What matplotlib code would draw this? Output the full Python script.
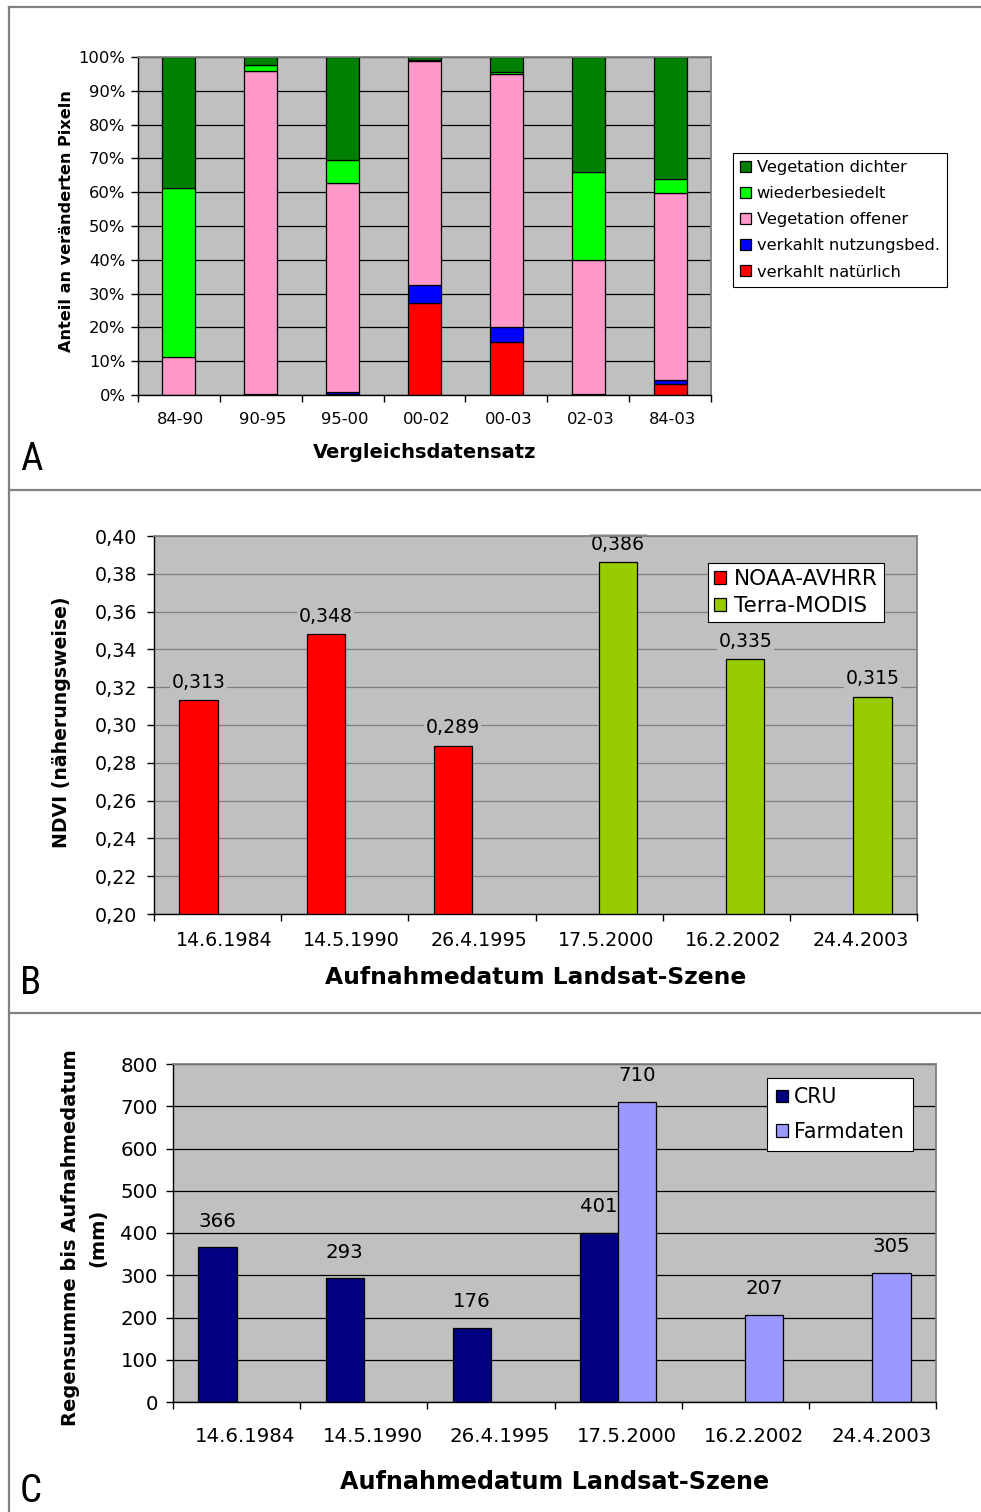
import numpy as np
import matplotlib
matplotlib.use("Agg")
import matplotlib.pyplot as plt
from matplotlib.lines import Line2D
from matplotlib.ticker import FixedLocator, FuncFormatter
from matplotlib.transforms import ScaledTranslation

plt.rcParams['font.family'] = ['DejaVu Sans']

# ---------------- data ----------------
# Panel A: share of changed pixels per comparison pair (percent)
pairs = ["84-90", "90-95", "95-00", "00-02", "00-03", "02-03", "84-03"]
verkahlt_nat = [0.0, 0.2, 0.3, 27.1, 15.8, 0.2, 3.2]
verkahlt_nutz = [0.0, 0.2, 0.5, 5.4, 4.4, 0.2, 1.1]
veg_offener = [11.3, 95.5, 61.8, 66.3, 74.8, 39.4, 55.4]
wiederbesiedelt = [50.0, 1.6, 6.8, 0.2, 0.5, 26.2, 4.2]
veg_dichter = [38.7, 2.5, 30.6, 1.0, 4.5, 34.0, 36.1]

# Panel B: approximate NDVI per Landsat scene date
dates = ["14.6.1984", "14.5.1990", "26.4.1995", "17.5.2000", "16.2.2002", "24.4.2003"]
ndvi_noaa = [0.313, 0.348, 0.289, np.nan, np.nan, np.nan]
ndvi_modis = [np.nan, np.nan, np.nan, 0.386, 0.335, 0.315]

# Panel C: rainfall sum up to acquisition date (mm)
rain_cru = [366, 293, 176, 401, np.nan, np.nan]
rain_farm = [np.nan, np.nan, np.nan, 710, 207, 305]

W, H = 981, 1512
fig = plt.figure(figsize=(W / 100, H / 100), dpi=100)

PLOT_BG = "#C0C0C0"
FRAME_GREY = "#808080"


def axes_px(x0, y0, x1, y1):
    return fig.add_axes([x0 / W, 1 - y1 / H, (x1 - x0) / W, (y1 - y0) / H])


def style_axes(ax, n, grid_color, ticksize, xpad, ypad):
    ax.set_facecolor(PLOT_BG)
    ax.set_xlim(-0.5, n - 0.5)
    ax.xaxis.set_major_locator(FixedLocator(np.arange(n + 1) - 0.5))
    ax.xaxis.set_minor_locator(FixedLocator(np.arange(n)))
    ax.tick_params(axis='x', which='major', length=5, width=1, labelbottom=False,
                   direction='out', color='black')
    ax.tick_params(axis='x', which='minor', length=0, pad=xpad, labelsize=ticksize)
    ax.tick_params(axis='y', which='major', length=5, width=1, direction='out',
                   labelsize=ticksize, pad=ypad)
    ax.grid(axis='y', color=grid_color, linewidth=0.9)
    ax.set_axisbelow(True)
    for s in ('top', 'right'):
        ax.spines[s].set_color(FRAME_GREY)
        ax.spines[s].set_linewidth(1.3)
    for s in ('left', 'bottom'):
        ax.spines[s].set_color('black')
        ax.spines[s].set_linewidth(1.0)


def shift_xlabels(ax, dx_px):
    off = ScaledTranslation(dx_px / 100, 0, fig.dpi_scale_trans)
    for lbl in ax.get_xticklabels(minor=True):
        lbl.set_transform(lbl.get_transform() + off)


# ---------------- Panel A ----------------
axA = axes_px(138, 57, 711, 395)
style_axes(axA, len(pairs), 'black', 11.8, 12, 4)
xa = np.arange(len(pairs))
layers = [
    (verkahlt_nat, "#FF0000", "verkahlt natürlich"),
    (verkahlt_nutz, "#0000FF", "verkahlt nutzungsbed."),
    (veg_offener, "#FF99CC", "Vegetation offener"),
    (wiederbesiedelt, "#00FF00", "wiederbesiedelt"),
    (veg_dichter, "#008000", "Vegetation dichter"),
]
bottom = np.zeros(len(pairs))
handlesA = []
for vals, col, lab in layers:
    v = np.array(vals, dtype=float)
    b = axA.bar(xa, v, 0.403, bottom=bottom, color=col, edgecolor='black',
                linewidth=0.9, label=lab)
    handlesA.append(b)
    bottom += v
axA.set_ylim(0, 100)
axA.yaxis.set_major_locator(FixedLocator(np.arange(0, 101, 10)))
axA.yaxis.set_major_formatter(FuncFormatter(lambda v, p: f"{int(round(v))}%"))
axA.set_xticks(xa, pairs, minor=True)
shift_xlabels(axA, 2)
axA.set_xlabel("Vergleichsdatensatz", fontsize=14, fontweight='bold', va='center')
axA.xaxis.set_label_coords(0.5, -0.169)
axA.set_ylabel("Anteil an veränderten Pixeln", fontsize=11.6, fontweight='bold', va='center')
axA.yaxis.set_label_coords(-0.124, 0.515)
legA = axA.legend(handlesA[::-1], [h.get_label() for h in handlesA[::-1]],
                  loc='upper left', bbox_to_anchor=(1.0384, 0.716), borderaxespad=0,
                  fontsize=11.7, frameon=True, fancybox=False, framealpha=1,
                  edgecolor='black', handlelength=0.65, handleheight=0.65,
                  handletextpad=0.35, labelspacing=0.68, borderpad=0.45)
legA.get_frame().set_linewidth(0.8)

# ---------------- Panel B ----------------
axB = axes_px(154, 536, 917, 914)
style_axes(axB, len(dates), FRAME_GREY, 13.7, 12, 7)
xb = np.arange(len(dates))
bw = 0.30
axB.bar(xb - bw / 2, ndvi_noaa, bw, color="#FF0000", edgecolor='black',
        linewidth=0.9, label="NOAA-AVHRR")
axB.bar(xb + bw / 2, ndvi_modis, bw, color="#99CC00", edgecolor='black',
        linewidth=0.9, label="Terra-MODIS")
axB.set_ylim(0.20, 0.40)
axB.yaxis.set_major_locator(FixedLocator(np.round(np.arange(0.20, 0.401, 0.02), 2)))
axB.yaxis.set_major_formatter(FuncFormatter(lambda v, p: f"{v:.2f}".replace('.', ',')))
axB.set_xticks(xb, dates, minor=True)
shift_xlabels(axB, 7)
for xs, vals in ((xb - bw / 2, ndvi_noaa), (xb + bw / 2, ndvi_modis)):
    for x, v in zip(xs, vals):
        if np.isnan(v):
            continue
        axB.annotate(f"{v:.3f}".replace('.', ','), (x, v), xytext=(0, 6),
                     textcoords='offset points', ha='center', va='bottom',
                     fontsize=13.6, zorder=2.4,
                     bbox=dict(facecolor=PLOT_BG, edgecolor='none', pad=1))
axB.set_xlabel("Aufnahmedatum Landsat-Szene", fontsize=16.8, fontweight='bold', va='center')
axB.xaxis.set_label_coords(0.5007, -0.169)
axB.set_ylabel("NDVI (näherungsweise)", fontsize=13.6, fontweight='bold', va='center')
axB.yaxis.set_label_coords(-0.1206, 0.5066)
legB = axB.legend(loc='upper left', bbox_to_anchor=(0.726, 0.9286), borderaxespad=0,
                  fontsize=15.5, frameon=True, fancybox=False, framealpha=1,
                  edgecolor='black', handlelength=0.55, handleheight=0.55,
                  handletextpad=0.35, labelspacing=0.3, borderpad=0.3)
legB.get_frame().set_linewidth(0.8)

# ---------------- Panel C ----------------
axC = axes_px(173, 1064, 936, 1402)
style_axes(axC, len(dates), 'black', 14.2, 18, 6)
axC.bar(xb - bw / 2, rain_cru, bw, color="#000080", edgecolor='black',
        linewidth=0.9, label="CRU")
axC.bar(xb + bw / 2, rain_farm, bw, color="#9999FF", edgecolor='black',
        linewidth=0.9, label="Farmdaten")
axC.set_ylim(0, 800)
axC.yaxis.set_major_locator(FixedLocator(np.arange(0, 801, 100)))
axC.set_xticks(xb, dates, minor=True)
shift_xlabels(axC, 9)
for xs, vals in ((xb - bw / 2, rain_cru), (xb + bw / 2, rain_farm)):
    for x, v in zip(xs, vals):
        if np.isnan(v):
            continue
        axC.annotate(f"{int(v)}", (x, v), xytext=(0, 12),
                     textcoords='offset points', ha='center', va='bottom',
                     fontsize=14.2)
axC.set_xlabel("Aufnahmedatum Landsat-Szene", fontsize=17.2, fontweight='bold', va='center')
axC.xaxis.set_label_coords(0.5007, -0.2367)
axC.set_ylabel("Regensumme bis Aufnahmedatum\n(mm)", fontsize=14, fontweight='bold',
               va='center', multialignment='center', linespacing=1.55)
axC.yaxis.set_label_coords(-0.1166, 0.485)
legC = axC.legend(loc='upper left', bbox_to_anchor=(0.7785, 0.9586), borderaxespad=0,
                  fontsize=14.8, frameon=True, fancybox=False, framealpha=1,
                  edgecolor='black', handlelength=0.55, handleheight=0.55,
                  handletextpad=0.3, labelspacing=0.7, borderpad=0.45)
legC.get_frame().set_linewidth(0.8)

# ---------------- panel frame and letters ----------------
def hline(y):
    fig.add_artist(Line2D([8.5 / W, 1.0], [1 - y / H, 1 - y / H], color=FRAME_GREY,
                          linewidth=1.6, transform=fig.transFigure))

fig.add_artist(Line2D([8.5 / W, 8.5 / W], [0, 1 - 7 / H], color=FRAME_GREY,
                      linewidth=1.6, transform=fig.transFigure))
for yy in (7, 490, 1013):
    hline(yy)

letter_font = ['Liberation Sans Narrow', 'DejaVu Sans Condensed', 'Roboto Condensed',
               'Roboto']
for letter, yc in (("A", 460), ("B", 983), ("C", 1491)):
    fig.text(20 / W, 1 - yc / H, letter, fontsize=28, family=letter_font,
             ha='left', va='center')

fig.savefig("out.png", dpi=100, facecolor='white')
